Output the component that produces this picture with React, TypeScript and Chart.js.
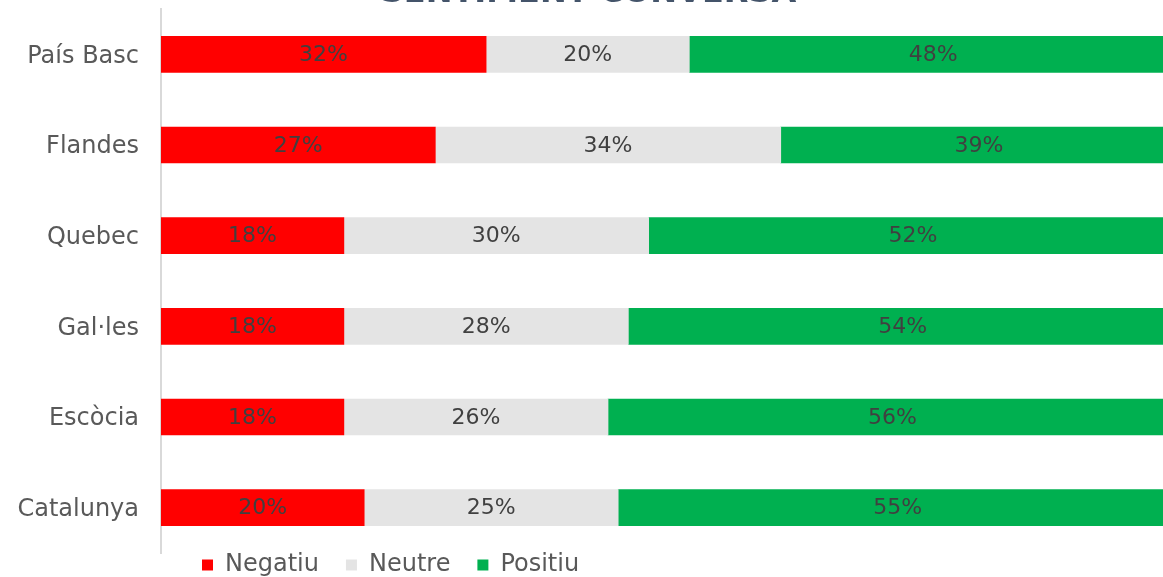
import React, { useEffect, useRef } from "react";
import { Chart, registerables } from "chart.js";

Chart.register(...registerables);

const titleText = "SENTIMENT CONVERSA";
const categories = ["País Basc", "Flandes", "Quebec", "Gal·les", "Escòcia", "Catalunya"];
const negatiu = [32, 27, 18, 18, 18, 20];
const neutre = [20, 34, 30, 28, 26, 25];
const positiu = [48, 39, 52, 54, 56, 55];
const seriesNames = ["Negatiu", "Neutre", "Positiu"];

const FONT = "'DejaVu Sans', 'Open Sans', sans-serif";

const titlePlugin = {
  id: "cutTitle",
  afterDraw(chart: any) {
    const ctx = chart.ctx;
    ctx.save();
    ctx.font = `bold 32px ${FONT}`;
    ctx.fillStyle = "#44546A";
    ctx.textAlign = "center";
    ctx.textBaseline = "alphabetic";
    ctx.fillText(titleText, chart.width / 2, 2);
    ctx.restore();
  },
};

const valueLabels = {
  id: "valueLabels",
  afterDatasetsDraw(chart: any) {
    const ctx = chart.ctx;
    ctx.save();
    ctx.font = `22px ${FONT}`;
    ctx.fillStyle = "#404040";
    ctx.textAlign = "center";
    ctx.textBaseline = "middle";
    chart.data.datasets.forEach((ds: any, di: number) => {
      const meta = chart.getDatasetMeta(di);
      meta.data.forEach((bar: any, i: number) => {
        const x = (bar.x + bar.base) / 2;
        ctx.fillText(`${ds.data[i]}%`, x, bar.y + 1);
      });
    });
    ctx.restore();
  },
};

const legendShift = {
  id: "legendShift",
  afterLayout(chart: any) {
    const lg = chart.legend;
    if (!lg) return;
    const pad = lg.options.labels.padding;
    lg.left = 202 - pad;
    lg.top = 565 - pad - 12;
  },
};

export default function App() {
  const ref = useRef<HTMLCanvasElement>(null);
  useEffect(() => {
    if (!ref.current) return;
    const chart = new Chart(ref.current, {
      type: "bar",
      data: {
        labels: categories,
        datasets: [
          { label: seriesNames[0], data: negatiu, backgroundColor: "#FF0000" },
          { label: seriesNames[1], data: neutre, backgroundColor: "#E4E4E4" },
          { label: seriesNames[2], data: positiu, backgroundColor: "#00B050" },
        ],
      },
      options: {
        indexAxis: "y",
        responsive: false,
        animation: false,
        devicePixelRatio: 1,
        barThickness: 36,
        layout: { padding: { top: 9, bottom: 0, left: 0, right: 0 } },
        scales: {
          x: { stacked: true, min: 0, max: 100, display: false },
          y: {
            stacked: true,
            grid: { display: true, drawOnChartArea: false, drawTicks: false },
            border: { display: true, color: "#D9D9D9", width: 2 },
            ticks: { color: "#595959", font: { family: FONT, size: 24 }, padding: 22, labelOffset: 2 },
            afterFit(scale: any) {
              scale.width = 161;
              scale.paddingTop = 0;
              scale.paddingBottom = 0;
            },
          },
        },
        plugins: {
          title: { display: false },
          tooltip: { enabled: false },
          legend: {
            position: "bottom",
            align: "start",
            maxHeight: 24,
            labels: {
              color: "#595959",
              font: { family: FONT, size: 24 },
              boxWidth: 11,
              boxHeight: 11,
              padding: 27,
            },
          },
        },
      } as any,
      plugins: [titlePlugin, valueLabels, legendShift],
    });
    return () => chart.destroy();
  }, []);
  return (
    <div style={{ position: "fixed", left: 0, top: 0, width: 1163, height: 577, overflow: "hidden", background: "#fff" }}>
      <canvas ref={ref} width={1177} height={577} style={{ display: "block" }} />
    </div>
  );
}
